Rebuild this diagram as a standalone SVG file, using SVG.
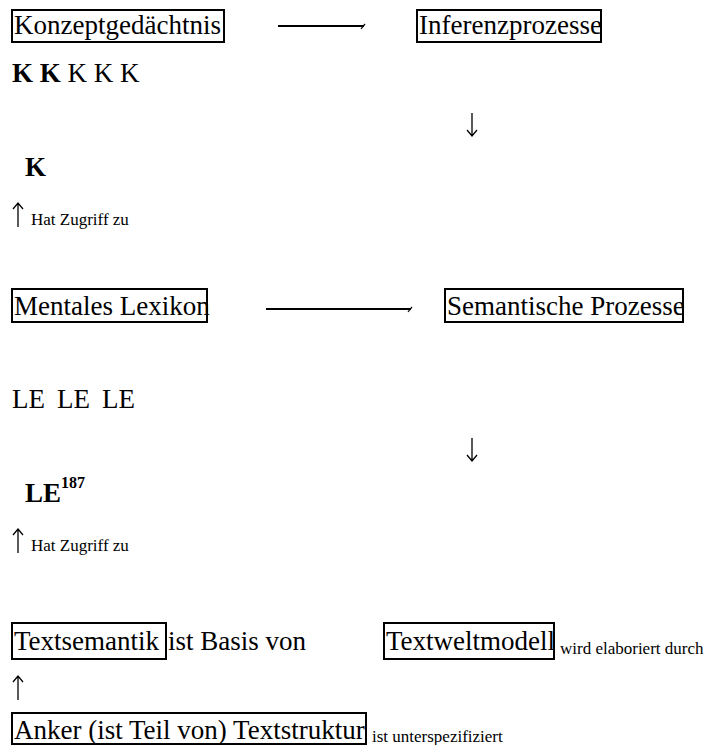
<svg xmlns="http://www.w3.org/2000/svg" width="708" height="745" viewBox="0 0 708 745">
<style>
text{font-family:"Liberation Serif","Times New Roman",serif;fill:#000}
.m{font-size:27px}
.s{font-size:17px}
.b{font-weight:bold}
.box{fill:none;stroke:#000;stroke-width:2}
.ln{stroke:#000;stroke-width:2;fill:none}
.tk{stroke:#000;stroke-width:1.2;fill:none}
.ar{stroke:#000;stroke-width:1.3;fill:none}
</style>
<rect width="708" height="745" fill="#fff"/>
<g id="node-konzeptgedaechtnis">
<rect class="box" x="12" y="10" width="212" height="32"/>
<text class="m" x="14" y="34">Konzeptgedächtnis</text>
</g>
<g id="node-inferenzprozesse">
<rect class="box" x="417" y="10" width="184" height="32"/>
<text class="m" x="419" y="34">Inferenzprozesse</text>
</g>
<g id="node-k-row">
<text class="m" x="12" y="82"><tspan class="b">K K</tspan> K K K</text>
</g>
<g id="node-k">
<text class="m b" x="25" y="176">K</text>
</g>
<g id="label-zugriff-1">
<text class="s" x="31" y="225">Hat Zugriff zu</text>
</g>
<g id="node-mentales-lexikon">
<rect class="box" x="12" y="289" width="195" height="33"/>
<text class="m" x="14" y="315">Mentales Lexikon</text>
</g>
<g id="node-semantische-prozesse">
<rect class="box" x="445" y="289" width="238" height="33"/>
<text class="m" x="447" y="315">Semantische Prozesse</text>
</g>
<g id="node-le-row">
<text class="m" x="12" y="408">LE</text>
<text class="m" x="57" y="408">LE</text>
<text class="m" x="102" y="408">LE</text>
</g>
<g id="node-le187">
<text class="m b" x="25" y="502">LE</text>
<text class="b" font-size="16" x="61" y="488">187</text>
</g>
<g id="label-zugriff-2">
<text class="s" x="31" y="551">Hat Zugriff zu</text>
</g>
<g id="node-textsemantik">
<rect class="box" x="12" y="623" width="154" height="36"/>
<text class="m" x="14" y="650">Textsemantik</text>
<text class="m" x="168" y="650">ist Basis von</text>
</g>
<g id="node-textweltmodell">
<rect class="box" x="384" y="623" width="170" height="36"/>
<text class="m" x="386" y="650">Textweltmodell</text>
<text class="s" x="560" y="654">wird elaboriert durch</text>
</g>
<g id="node-anker">
<rect class="box" x="12" y="713" width="354" height="31"/>
<text class="m" x="14" y="739">Anker (ist Teil von) Textstruktur</text>
<text class="s" x="372" y="742">ist unterspezifiziert</text>
</g>
<g id="connectors">
<line class="ln" x1="278" y1="26" x2="364" y2="26"/>
<polyline class="tk" points="361,29 362.5,27 365,24"/>
<line class="ln" x1="266" y1="309" x2="411" y2="309"/>
<polyline class="tk" points="408,312 409.5,310 412,307"/>
<path class="ar" d="M472 113V136M467 130L472 136L477 130"/>
<path class="ar" d="M472 438V461M467 455L472 461L477 455"/>
<path class="ar" d="M18 227V203M13 209L18 203L23 209"/>
<path class="ar" d="M18 553V529M13 535L18 529L23 535"/>
<path class="ar" d="M18 700V676M13 682L18 676L23 682"/>
</g>
</svg>
